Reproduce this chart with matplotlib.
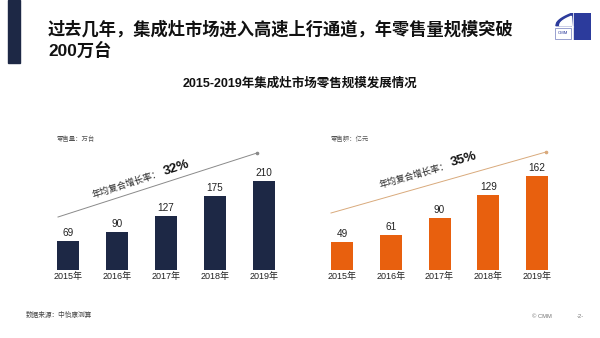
import numpy as np
import matplotlib
matplotlib.use("Agg")
import matplotlib.pyplot as plt
from matplotlib.patches import Rectangle, Polygon

plt.rcParams['font.family'] = ['Liberation Sans', 'Noto Sans CJK SC', 'DejaVu Sans']

# data
years = ["2015年", "2016年", "2017年", "2018年", "2019年"]
volume = [69, 90, 127, 175, 210]        # 零售量 万台
revenue = [49, 61, 90, 129, 162]        # 零售额 亿元

NAVY = "#1d2845"
ORANGE = "#e8600e"
W, H = 600, 338


def fx(px):
    return px / W


def fy(py):
    return 1 - py / H


fig = plt.figure(figsize=(6, 3.38), dpi=100)
fig.patch.set_facecolor("white")

# header
fig.patches.append(Rectangle((fx(8), fy(63)), fx(12), 63 / H, transform=fig.transFigure,
                             color=NAVY, zorder=5))
fig.text(fx(48), fy(29), "过去几年，集成灶市场进入高速上行通道，年零售量规模突破",
         fontsize=12.4, fontweight="bold", va="center", ha="left", color="#111111")
fig.text(fx(48), fy(50), "200万台", fontsize=12.4, fontweight="bold",
         va="center", ha="left", color="#111111")
fig.text(fx(300), fy(84), "2015-2019年集成灶市场零售规模发展情况", fontsize=9.0,
         fontweight="bold", ha="center", va="center", color="#111111")

# logo
lg = fig.add_axes([fx(554), fy(40), fx(37), 27 / H])
lg.set_xlim(0, 2); lg.set_ylim(0, 2); lg.axis("off")
BLUE = "#2c3b9c"
lg.add_patch(Rectangle((1.06, 1.06), 0.94, 0.94, color=BLUE))
lg.add_patch(Rectangle((1.06, 0), 0.94, 0.94, color=BLUE))
t = np.linspace(0, 1, 20)
outer = np.column_stack([0.1 + 0.9 * t, 1.06 + 0.94 * np.sqrt(t)])
lg.add_patch(Polygon(np.vstack([outer, [(0.94, 1.06)]]), color=BLUE))
inner = np.column_stack([0.3 + 0.64 * t, 1.06 + 0.7 * np.sqrt(t)])
lg.add_patch(Polygon(np.vstack([inner, [(0.94, 1.06)]]), color="white"))
lg.add_patch(Rectangle((0.03, 0.1), 0.9, 0.8, fill=False, ec="#8890c8", lw=0.6))
lg.text(0.48, 0.5, "CMM", fontsize=3.2, color=BLUE, ha="center", va="center")


def bar_panel(left_px, step, vals, color, ppu, unit, cagr, line, line_col, txt_xy, pct_xy, angle):
    x0 = left_px - step / 2
    top = 130
    ax = fig.add_axes([fx(x0), fy(270), fx(5 * step), (270 - top) / H])
    x = np.arange(len(vals))
    ax.bar(x, vals, width=22 / step, color=color)
    for xi, v in zip(x, vals):
        ax.annotate(f"{v}", (xi, v), xytext=(0, 2), textcoords="offset points",
                    ha="center", va="bottom", fontsize=7.2, color="#222222")
    ax.set_xlim(-0.5, len(vals) - 0.5)
    ax.set_ylim(0, (270 - top) / ppu)
    ax.set_xticks(x)
    ax.set_xticklabels(years, fontsize=6.5, color="#222222")
    ax.tick_params(axis="x", length=0, pad=1.5)
    ax.set_yticks([])
    for s in ax.spines.values():
        s.set_visible(False)
    ax.patch.set_alpha(0)
    # unit label
    fig.text(fx(left_px - 11), fy(139), unit, fontsize=4.6, color="#555555", va="center")
    # growth arrow
    (ax_, ay_), (bx_, by_) = line
    fig.lines.append(plt.Line2D([fx(ax_), fx(bx_)], [fy(ay_), fy(by_)],
                                transform=fig.transFigure, color=line_col, lw=0.7))
    fig.lines.append(plt.Line2D([fx(bx_)], [fy(by_)], transform=fig.transFigure,
                                marker="o", ms=1.6, color=line_col, mec=line_col))
    fig.text(fx(txt_xy[0]), fy(txt_xy[1]), "年均复合增长率：", fontsize=6.5, rotation=angle,
             rotation_mode="anchor", ha="center", va="center", color="#222222")
    fig.text(fx(pct_xy[0]), fy(pct_xy[1]), cagr, fontsize=9.5, fontweight="bold",
             rotation=angle, rotation_mode="anchor", ha="center", va="center", color="#111111")
    return ax


bar_panel(68, 49, volume, NAVY, 89 / 210, "零售量：万台", "32%",
          ((58, 217), (257, 153)), "#8a8a8a", (127, 184), (176, 168), 18)
bar_panel(342, 48.75, revenue, ORANGE, 94 / 162, "零售额：亿元", "35%",
          ((331, 213), (546, 152)), "#d9aa7c", (414, 176), (464, 159), 16)

# footer
fig.text(fx(26), fy(315), "数据来源：中怡康测算", fontsize=4.8, color="#444444", va="center")
fig.text(fx(532), fy(316), "© CMM", fontsize=4.2, color="#777777", va="center")
fig.text(fx(577), fy(316), "-2-", fontsize=4.2, color="#777777", va="center")

fig.savefig("out.png", dpi=100)
